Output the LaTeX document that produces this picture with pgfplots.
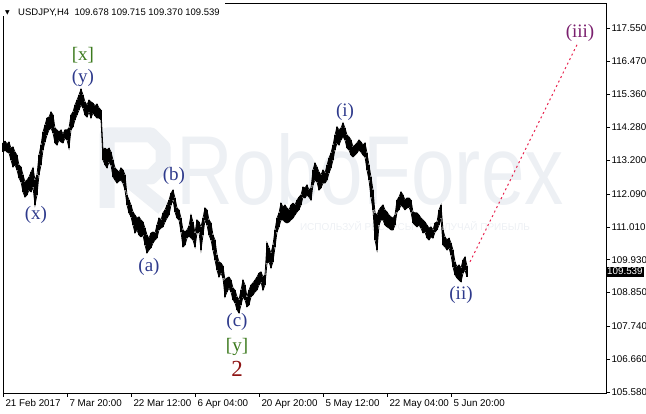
\documentclass[border=0pt]{standalone}
\usepackage{fontspec}
\setmainfont{Liberation Sans}
\newfontfamily\wavefont{Liberation Serif}
\newfontfamily\symfont{DejaVu Sans}
\usepackage{xcolor}
\usepackage{pgfplots}
\usepackage{pgfplotstable}
\pgfplotsset{compat=1.18}
\definecolor{wave}{HTML}{2E3A8C}
\definecolor{wgreen}{HTML}{3C7A1E}
\definecolor{wred}{HTML}{8E1414}
\definecolor{wpurple}{HTML}{7A1F6E}
\definecolor{target}{HTML}{E8234F}
\definecolor{wmark}{HTML}{EDF0F4}

% H4 bars of USDJPY, one bar per unit; every second bar, high and low
\pgfplotstableread{
x hi lo
0 113.77 113.47
2 113.83 113.54
4 113.74 113.47
6 113.80 113.44
8 113.60 113.21
10 113.64 112.98
12 113.47 113.05
14 113.37 112.88
16 113.04 112.62
18 112.98 112.49
20 112.72 112.16
22 112.49 111.99
24 112.55 112.06
26 112.65 112.22
28 112.81 112.16
30 112.95 112.32
32 112.55 111.73
34 112.72 112.06
36 113.37 112.72
38 113.70 113.04
40 114.13 113.54
42 114.36 113.80
44 114.59 114.03
46 114.62 114.20
48 114.79 114.26
50 114.69 114.10
52 114.26 113.77
54 114.20 113.70
56 114.13 113.87
58 114.20 113.80
60 114.06 113.77
62 114.20 113.93
64 114.20 113.87
66 114.26 113.60
68 114.69 114.20
70 114.79 114.30
72 115.02 114.53
74 115.18 114.69
76 115.35 114.85
78 115.54 115.02
80 115.35 114.92
82 115.12 114.69
84 115.02 114.62
86 115.18 114.79
88 115.12 114.59
90 115.08 114.76
92 114.99 114.66
94 115.05 114.59
96 114.92 114.59
98 114.85 114.53
100 113.54 113.21
102 113.60 113.05
104 113.54 112.95
106 113.60 113.14
108 113.47 113.05
110 113.21 112.65
112 112.95 112.55
114 112.88 112.45
116 112.81 112.52
118 112.95 112.55
120 112.88 112.45
122 112.72 112.22
124 112.06 111.73
126 111.89 111.47
128 111.73 111.34
130 111.50 111.07
132 111.40 110.81
134 111.30 110.91
136 111.34 110.74
138 111.24 110.68
140 111.17 110.74
142 110.97 110.41
144 110.74 110.15
146 110.64 110.25
148 110.81 110.32
150 110.84 110.48
152 110.81 110.58
154 111.07 110.64
156 111.30 110.91
158 111.24 110.97
160 111.47 111.01
162 111.57 111.17
164 111.73 111.30
166 111.89 111.40
168 112.12 111.73
170 112.22 111.89
172 111.96 111.50
174 111.63 111.30
176 111.57 111.24
178 111.30 110.84
180 110.91 110.35
182 110.84 110.41
184 110.91 110.64
186 111.04 110.71
188 111.40 110.64
190 111.17 110.58
192 110.81 110.35
194 111.24 110.81
196 111.17 110.84
198 111.01 110.25
200 111.30 110.74
202 111.63 111.24
204 111.57 111.07
206 111.24 110.74
208 111.14 110.58
210 110.74 110.25
212 110.58 109.92
214 110.09 109.59
216 109.86 109.36
218 109.82 109.49
220 109.72 109.33
222 109.26 108.71
224 109.33 108.87
226 109.36 109.00
228 109.26 108.87
230 109.00 108.61
232 108.93 108.51
234 108.71 108.28
236 108.61 108.18
238 108.93 108.44
240 109.26 108.71
242 109.10 108.61
244 108.71 108.38
246 108.93 108.44
248 109.10 108.71
250 109.17 108.77
252 109.26 108.87
254 109.36 108.93
256 109.49 109.10
258 109.53 109.20
260 109.36 108.93
262 109.43 109.10
264 110.48 109.82
266 110.32 109.86
268 110.15 109.66
270 110.41 109.86
272 110.91 110.35
274 111.30 110.84
276 111.47 111.01
278 111.79 111.24
280 111.66 111.24
282 111.73 111.17
284 111.63 111.14
286 111.57 111.17
288 111.73 111.24
290 111.79 111.30
292 111.73 111.40
294 111.89 111.50
296 111.99 111.57
298 112.06 111.73
300 112.32 111.99
302 112.29 111.96
304 112.39 112.06
306 112.22 111.99
308 112.29 111.89
310 112.88 112.39
312 113.11 112.55
314 112.98 112.49
316 112.81 112.22
318 112.72 112.29
320 112.88 112.45
322 112.78 112.45
324 113.04 112.55
326 113.27 112.78
328 113.44 112.95
330 113.70 113.21
332 114.03 113.54
334 114.30 113.77
336 114.20 113.70
338 114.26 113.87
340 114.43 113.97
342 114.26 113.87
344 114.03 113.60
346 113.97 113.54
348 113.87 113.37
350 113.64 113.31
352 113.70 113.37
354 113.77 113.44
356 113.87 113.54
358 113.80 113.47
360 113.70 113.37
362 113.77 113.31
364 113.44 112.88
366 113.04 112.55
368 112.65 111.99
370 112.22 111.57
372 111.47 110.58
374 111.40 110.25
376 111.57 111.07
378 111.66 111.24
380 111.73 111.24
382 111.57 111.07
384 111.50 111.01
386 111.40 110.97
388 111.34 110.91
390 111.30 110.91
392 111.40 111.07
394 111.89 111.50
396 111.99 111.57
398 112.16 111.73
400 112.06 111.66
402 111.89 111.57
404 111.96 111.63
406 111.96 111.66
408 111.89 111.50
410 111.50 111.14
412 111.47 111.07
414 111.47 111.01
416 111.40 111.07
418 111.30 110.97
420 111.24 110.81
422 111.17 110.84
424 111.07 110.64
426 110.97 110.58
428 111.01 110.68
430 110.91 110.64
432 111.14 110.84
434 111.17 110.91
436 111.57 111.07
438 111.73 111.30
440 110.91 110.41
442 110.68 110.35
444 110.58 110.25
446 110.64 110.32
448 110.48 110.09
450 110.25 109.69
452 109.86 109.43
454 109.69 109.33
456 109.76 109.26
458 109.66 109.20
460 109.92 109.49
462 110.02 109.59
464 109.72 109.37
}\pricedata

\begin{document}
\begin{tikzpicture}
\useasboundingbox (-3pt,-21pt) rectangle (643pt,393pt);

% watermark
\draw[wmark, line width=15pt, line join=round]
  (104pt,185pt) -- (104pt,258pt) -- (148pt,258pt) -- (160pt,246pt) -- (160pt,228pt) -- (148pt,216pt) -- (122pt,216pt) -- (160pt,185pt);
\node[anchor=base, text=wmark, font=\fontsize{98}{98}\selectfont, xscale=0.8] at (367pt,188pt) {RoboForex};
\node[anchor=base, text=wmark, font=\fontsize{10}{10}\selectfont] at (412pt,162pt) {ИСПОЛЬЗУЙ РЕСУРСЫ — ПОЛУЧАЙ ПРИБЫЛЬ};

\begin{axis}[
  at={(0,0)}, anchor=south west,
  scale only axis, width=603pt, height=390pt,
  xmin=0, xmax=603, ymin=105.547, ymax=118.372,
  axis line style={black, line width=0.6pt},
  xtick={0,64,128,192,256,320,384,448},
  xticklabels={21 Feb 2017, 7 Mar 20:00, 22 Mar 12:00, 6 Apr 04:00, 20 Apr 20:00, 5 May 12:00, 22 May 04:00, 5 Jun 20:00},
  xtick pos=bottom, ytick pos=right, yticklabel pos=right,
  tick align=outside, major tick length=4pt,
  tick style={black, line width=0.6pt},
  ytick={105.58,106.66,107.74,108.85,109.93,111.01,112.09,113.20,114.28,115.36,116.47,117.55},
  yticklabel style={xshift=-2pt, /pgf/number format/.cd, fixed, fixed zerofill, precision=3, assume math mode=true},
  xticklabel style={anchor=north west, xshift=-1pt, yshift=1pt},
  tick label style={font=\fontsize{9.8}{11}\selectfont},
  clip=false,
]
\addplot[black, line width=0.8pt, mark=none,
  error bars/.cd, y dir=minus, y explicit, error mark=none,
  error bar style={black, line width=1.3pt}]
  table[x=x, y=hi, y error expr=\thisrow{hi}-\thisrow{lo}] {\pricedata};
\addplot[black, line width=0.8pt, mark=none] table[x=x, y=lo] {\pricedata};

% projected wave (iii)
\addplot[target, line width=1pt, dash pattern=on 2pt off 3pt] coordinates {(467,109.86) (574,117.00)};

% wave labels
\begin{scope}[font=\wavefont\fontsize{19}{19}\selectfont]
\node[text=wgreen] at (axis cs:80,116.66) {[x]};
\node[text=wave] at (axis cs:80,115.91) {(y)};
\node[text=wave] at (axis cs:33,111.40) {(x)};
\node[text=wave] at (axis cs:171,112.68) {(b)};
\node[text=wave] at (axis cs:146,109.69) {(a)};
\node[text=wave] at (axis cs:234,107.88) {(c)};
\node[text=wgreen] at (axis cs:234,107.06) {[y]};
\node[text=wave] at (axis cs:342,114.79) {(i)};
\node[text=wave] at (axis cs:458,108.77) {(ii)};
\node[text=wpurple] at (axis cs:577,117.39) {(iii)};
\end{scope}
\node[text=wred, font=\wavefont\fontsize{23}{23}\selectfont] at (axis cs:234,106.34) {2};

% last price
\node[anchor=west, fill=black, text=white, inner xsep=1pt, inner ysep=1.5pt,
  font=\fontsize{9.8}{11}\selectfont] at (axis cs:603,109.539) {109.539};
\end{axis}

% chart header
\fill[white] (-3pt,377pt) rectangle (222pt,393pt);
\node[anchor=west, inner sep=0pt, font=\symfont\fontsize{6}{6}\selectfont] at (2pt,380pt) {▼};
\node[anchor=west, inner sep=0pt, font=\fontsize{9.5}{11}\selectfont] at (15pt,380pt) {USDJPY,H4\ \ 109.678 109.715 109.370 109.539};
\end{tikzpicture}
\end{document}
